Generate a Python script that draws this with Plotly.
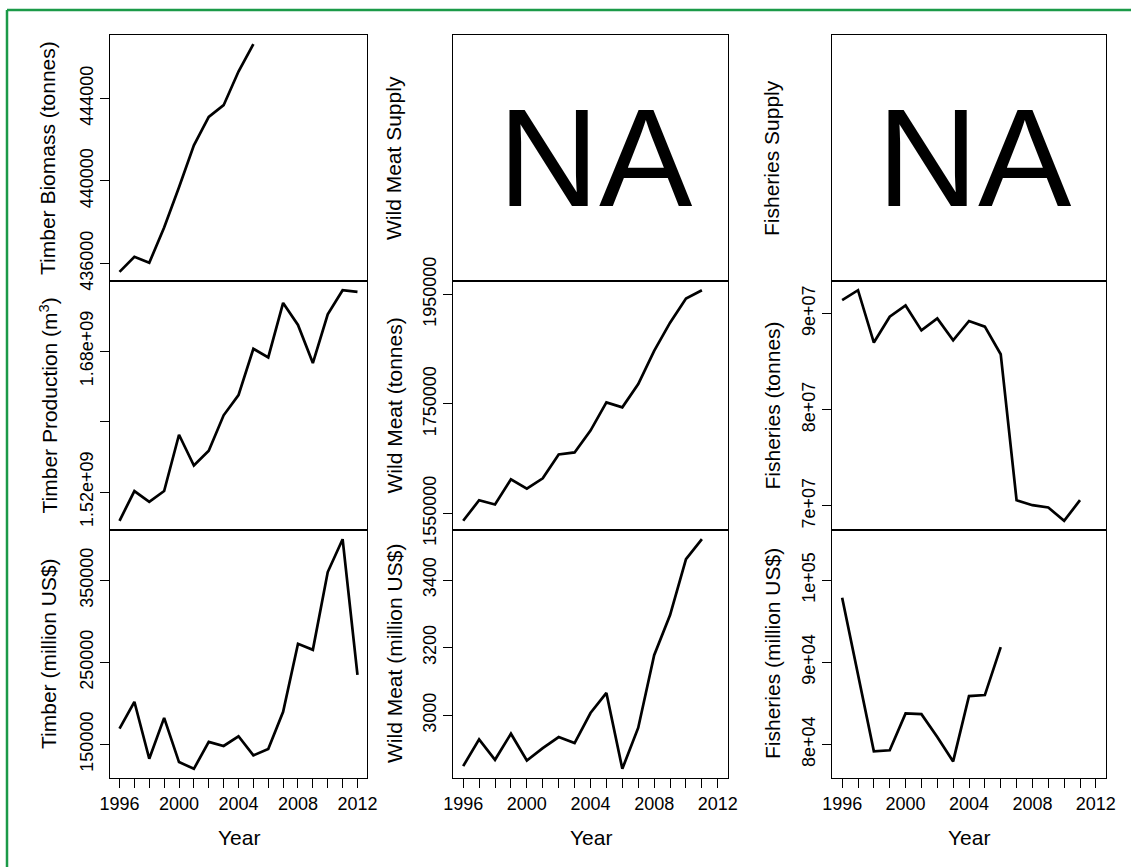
import plotly.graph_objects as go

W, H = 1131, 867
FONT = "Liberation Sans, Arial, Helvetica, sans-serif"

# ---------------- data ----------------
years_all = list(range(1996, 2013))
years_to_2011 = list(range(1996, 2012))
years_to_2006 = list(range(1996, 2007))
years_to_2005 = list(range(1996, 2006))

timber_biomass = [435590, 436320, 436030, 437740, 439690, 441720, 443100, 443670, 445300, 446630]
timber_production = [1.4873e9, 1.5211e9, 1.5087e9, 1.5211e9, 1.5851e9, 1.5501e9, 1.5670e9, 1.6072e9,
                     1.6302e9, 1.6828e9, 1.6730e9, 1.7350e9, 1.7099e9, 1.6666e9, 1.7219e9, 1.7494e9, 1.7475e9]
timber_value = [169200, 201900, 132400, 182300, 128300, 120100, 152900, 148000, 159800, 136500,
                144300, 189700, 272700, 265300, 360200, 400300, 234700]
wild_meat_tonnes = [1536700, 1574200, 1566400, 1612400, 1595500, 1614200, 1657900, 1661500,
                    1701500, 1753000, 1743900, 1786300, 1846900, 1898500, 1942700, 1957800]
wild_meat_value = [2849.8, 2928.9, 2868.6, 2945.7, 2866.6, 2903.2, 2935.8, 2918.0,
                   3006.9, 3066.2, 2841.9, 2963.4, 3177.8, 3296.4, 3461.4, 3520.7]
fisheries_tonnes = [91.38e6, 92.41e6, 86.97e6, 89.66e6, 90.83e6, 88.24e6, 89.48e6, 87.21e6,
                    89.21e6, 88.62e6, 85.76e6, 70.59e6, 70.07e6, 69.83e6, 68.45e6, 70.59e6]
fisheries_value = [97840, 88300, 79140, 79270, 83760, 83670, 80900, 77920, 85880, 86000, 91840]

x_label_years = [1996, 2000, 2004, 2008, 2012]
x_label_text = ["1996", "2000", "2004", "2008", "2012"]

# panel definitions: (col, row, title, xs, ys, tickvals, ticktext, unlabelled ticks, fixed_range)
panels = [
    (0, 0, "Timber Biomass (tonnes)", years_to_2005, timber_biomass,
     [436000, 440000, 444000], ["436000", "440000", "444000"], [], None),
    (0, 1, "Timber Production (m<sup>3</sup>)", years_all, timber_production,
     [1.52e9, 1.68e9], ["1.52e+09", "1.68e+09"], [1.60e9], None),
    (0, 2, "Timber (million US$)", years_all, timber_value,
     [150000, 250000, 350000], ["150000", "250000", "350000"], [], None),
    (1, 0, "Wild Meat Supply", None, None, [], [], [], None),
    (1, 1, "Wild Meat (tonnes)", years_to_2011, wild_meat_tonnes,
     [1550000, 1750000, 1950000], ["1550000", "1750000", "1950000"], [], None),
    (1, 2, "Wild Meat (million US$)", years_to_2011, wild_meat_value,
     [3000, 3200, 3400], ["3000", "3200", "3400"], [], None),
    (2, 0, "Fisheries Supply", None, None, [], [], [], None),
    (2, 1, "Fisheries (tonnes)", years_to_2011, fisheries_tonnes,
     [7e7, 8e7, 9e7], ["7e+07", "8e+07", "9e+07"], [], None),
    (2, 2, "Fisheries (million US$)", years_to_2006, fisheries_value,
     [8e4, 9e4, 1e5], ["8e+04", "9e+04", "1e+05"], [], [75900, 106100]),
]

# ---------------- layout geometry (pixels) ----------------
col_px = [(110, 367), (453, 728), (832, 1106)]
row_px = [(35, 281), (281, 530), (530, 778)]
ytitle_x = [48, 394, 772]


def px_x(x):
    return x / W


def px_y(y):
    return 1 - y / H


fig = go.Figure()
layout = dict(
    template="none",
    width=W, height=H, autosize=False,
    margin=dict(l=0, r=0, t=0, b=0, pad=0),
    paper_bgcolor="white", plot_bgcolor="white",
    showlegend=False,
    font=dict(family=FONT, color="black", size=18),
)
annotations = []
XR = [1995.36, 2012.64]
TICK = dict(ticklen=9, tickwidth=1.2, tickcolor="black")

for i, (c, r, title, xs, ys, tv, tt, minor_tv, fixed) in enumerate(panels):
    n = i + 1
    xa = "xaxis" if n == 1 else f"xaxis{n}"
    ya = "yaxis" if n == 1 else f"yaxis{n}"
    xref = "x" if n == 1 else f"x{n}"
    yref = "y" if n == 1 else f"y{n}"
    x0, x1 = col_px[c]
    y0, y1 = row_px[r]
    bottom = (r == 2)
    is_na = xs is None

    if is_na:
        yr = [0, 1]
    elif fixed is not None:
        yr = fixed
    else:
        lo, hi = min(ys), max(ys)
        pad = 0.04 * (hi - lo)
        yr = [lo - pad, hi + pad]

    xaxis = dict(
        domain=[px_x(x0), px_x(x1)], anchor=yref, range=XR, automargin=False,
        showline=True, mirror=True, linecolor="black", linewidth=1.2,
        showgrid=False, zeroline=False, fixedrange=True,
        tickmode="array", tickvals=x_label_years if bottom else [],
        ticktext=x_label_text if bottom else [], tickangle=0,
        ticks="outside" if bottom else "", **TICK,
        showticklabels=bottom, tickfont=dict(size=18, family=FONT, color="black"),
    )
    if bottom:
        xaxis["minor"] = dict(tickmode="linear", tick0=1996, dtick=1, ticks="outside",
                              showgrid=False, **TICK)
    layout[xa] = xaxis

    yaxis = dict(
        domain=[px_y(y1), px_y(y0)], anchor=xref, range=yr, automargin=False,
        showline=True, mirror=True, linecolor="black", linewidth=1.2,
        showgrid=False, zeroline=False, fixedrange=True,
        tickmode="array", tickvals=tv, ticktext=tt,
        ticks="outside" if tv else "", **TICK,
        tickangle=-90, showticklabels=bool(tv),
        tickfont=dict(size=18, family=FONT, color="black"),
    )
    if minor_tv:
        yaxis["minor"] = dict(tickmode="array", tickvals=minor_tv, ticks="outside",
                              showgrid=False, **TICK)
    layout[ya] = yaxis

    if not is_na:
        fig.add_trace(go.Scatter(
            x=xs, y=ys, mode="lines", xaxis=xref, yaxis=yref,
            line=dict(color="black", width=2.7), hoverinfo="x+y",
        ))
    else:
        # empty trace so that the panel frame is drawn
        fig.add_trace(go.Scatter(x=[None], y=[None], mode="lines", xaxis=xref, yaxis=yref,
                                 hoverinfo="skip"))
        annotations.append(dict(
            text="NA", xref="paper", yref="paper",
            x=px_x((x0 + x1) / 2 + 5), y=px_y((y0 + y1) / 2 - 1),
            xanchor="center", yanchor="middle", showarrow=False,
            font=dict(size=140, family=FONT, color="black"),
        ))

    # y axis title
    annotations.append(dict(
        text=title, xref="paper", yref="paper",
        x=px_x(ytitle_x[c]), y=px_y((y0 + y1) / 2),
        xanchor="center", yanchor="middle", textangle=-90, showarrow=False,
        font=dict(size=21, family=FONT, color="black"),
    ))
    if bottom:
        annotations.append(dict(
            text="Year", xref="paper", yref="paper",
            x=px_x((x0 + x1) / 2), y=px_y(837),
            xanchor="center", yanchor="middle", showarrow=False,
            font=dict(size=21, family=FONT, color="black"),
        ))

layout["annotations"] = annotations
layout["shapes"] = [
    dict(type="line", xref="paper", yref="paper", x0=px_x(7), x1=1.0, y0=px_y(10), y1=px_y(10),
         line=dict(color="#1b9a48", width=2.5)),
    dict(type="line", xref="paper", yref="paper", x0=px_x(7), x1=px_x(7), y0=px_y(10), y1=0.0,
         line=dict(color="#1b9a48", width=2.5)),
]
fig.update_layout(**layout)
fig.write_html("out.html", config={"displayModeBar": False},
               post_script="document.body.style.margin='0px';")
